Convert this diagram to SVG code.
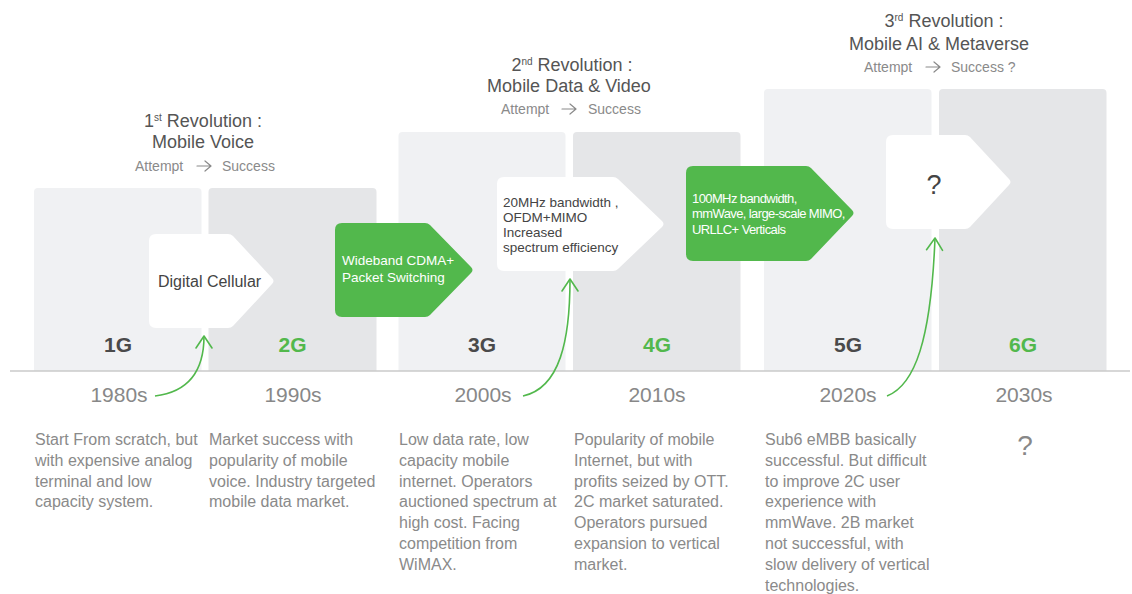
<svg xmlns="http://www.w3.org/2000/svg" width="1132" height="594" viewBox="0 0 1132 594">
<defs>
<style>
text{font-family:"Liberation Sans",Arial,sans-serif}
.colA{fill:#f0f1f3}
.colB{fill:#e5e6e8}
.head{font-size:18px;fill:#555;text-anchor:middle}
.sup{font-size:10px}
.sub{font-size:14px;fill:#8a8a8a}
.sarr{fill:none;stroke:#8a8a8a;stroke-width:1.2;stroke-linecap:round;stroke-linejoin:round}
.gen{font-size:21px;font-weight:bold;text-anchor:middle}
.dark{fill:#4a4a4a}
.green{fill:#52b84c}
.year{font-size:21px;fill:#888;text-anchor:middle}
.desc{font-size:16px;fill:#8a8a8a}
.wbox{fill:#fff}
.gbox{fill:#52b84c}
.btxt{font-size:13.5px;fill:#444}
.big{font-size:16px;fill:#444}
.gtxt{font-size:13.5px;fill:#fff}
.gtxt2{font-size:13px;fill:#fff;letter-spacing:-0.6px}
.q{font-size:27px;fill:#444;text-anchor:middle}
.q2{font-size:28px;fill:#888;text-anchor:middle}
.conn{fill:none;stroke:#52b84c;stroke-width:1.6}
</style>
<marker id="arr" markerUnits="userSpaceOnUse" markerWidth="30" markerHeight="30" refX="0" refY="0" orient="auto" overflow="visible">
<path d="M-12,-8 L0,0 L-12,8" fill="none" stroke="#52b84c" stroke-width="1.6" stroke-linecap="round" stroke-linejoin="round"/>
</marker>
</defs>
<rect width="1132" height="594" fill="#fff"/>

<g id="columns">
<path class="colA" d="M34,192 Q34,188 38,188 H197.5 Q201.5,188 201.5,192 V371 H34 Z"/>
<path class="colB" d="M208.5,192 Q208.5,188 212.5,188 H372.5 Q376.5,188 376.5,192 V371 H208.5 Z"/>
<path class="colA" d="M398.5,136 Q398.5,132 402.5,132 H561.5 Q565.5,132 565.5,136 V371 H398.5 Z"/>
<path class="colB" d="M573,136 Q573,132 577,132 H736.5 Q740.5,132 740.5,136 V371 H573 Z"/>
<path class="colA" d="M764,93 Q764,89 768,89 H927.5 Q931.5,89 931.5,93 V371 H764 Z"/>
<path class="colB" d="M939,93 Q939,89 943,89 H1102.5 Q1106.5,89 1106.5,93 V371 H939 Z"/>
<line x1="10" y1="371" x2="1130" y2="371" stroke="#cacaca" stroke-width="1.5"/>
</g>

<g id="rev1">
<text class="head" x="203" y="127">1<tspan class="sup" dy="-6">st</tspan><tspan dy="6"> Revolution :</tspan></text>
<text class="head" x="203" y="148">Mobile Voice</text>
<text class="sub" x="135" y="171">Attempt</text>
<path class="sarr" d="M197,166 H211 M205,161 L211,166 L205,171"/>
<text class="sub" x="222" y="171">Success</text>
</g>
<g id="rev2">
<text class="head" x="572" y="71">2<tspan class="sup" dy="-6">nd</tspan><tspan dy="6"> Revolution :</tspan></text>
<text class="head" x="569" y="92">Mobile Data &amp; Video</text>
<text class="sub" x="501" y="114">Attempt</text>
<path class="sarr" d="M562,109 H576 M570,104 L576,109 L570,114"/>
<text class="sub" x="588" y="114">Success</text>
</g>
<g id="rev3">
<text class="head" x="944" y="27">3<tspan class="sup" dy="-6">rd</tspan><tspan dy="6"> Revolution :</tspan></text>
<text class="head" x="939" y="50">Mobile AI &amp; Metaverse</text>
<text class="sub" x="864" y="72">Attempt</text>
<path class="sarr" d="M926,67 H940 M934,62 L940,67 L934,72"/>
<text class="sub" x="951" y="72">Success ?</text>
</g>

<g id="g1">
<text class="gen dark" x="118" y="352">1G</text>
<text class="year" x="119" y="402">1980s</text>
<text class="desc" y="445"><tspan x="35">Start From scratch, but</tspan><tspan x="35" dy="20.8">with expensive analog</tspan><tspan x="35" dy="20.8">terminal and low</tspan><tspan x="35" dy="20.8">capacity system.</tspan></text>
</g>
<g id="g2">
<text class="gen green" x="292.5" y="352">2G</text>
<text class="year" x="293" y="402">1990s</text>
<text class="desc" y="445"><tspan x="209">Market success with</tspan><tspan x="209" dy="20.8">popularity of mobile</tspan><tspan x="209" dy="20.8">voice. Industry targeted</tspan><tspan x="209" dy="20.8">mobile data market.</tspan></text>
</g>
<g id="g3">
<text class="gen dark" x="482" y="352">3G</text>
<text class="year" x="483" y="402">2000s</text>
<text class="desc" y="445"><tspan x="399">Low data rate, low</tspan><tspan x="399" dy="20.8">capacity mobile</tspan><tspan x="399" dy="20.8">internet. Operators</tspan><tspan x="399" dy="20.8">auctioned spectrum at</tspan><tspan x="399" dy="20.8">high cost. Facing</tspan><tspan x="399" dy="20.8">competition from</tspan><tspan x="399" dy="20.8">WiMAX.</tspan></text>
</g>
<g id="g4">
<text class="gen green" x="657" y="352">4G</text>
<text class="year" x="657" y="402">2010s</text>
<text class="desc" y="445"><tspan x="574">Popularity of mobile</tspan><tspan x="574" dy="20.8">Internet, but with</tspan><tspan x="574" dy="20.8">profits seized by OTT.</tspan><tspan x="574" dy="20.8">2C market saturated.</tspan><tspan x="574" dy="20.8">Operators pursued</tspan><tspan x="574" dy="20.8">expansion to vertical</tspan><tspan x="574" dy="20.8">market.</tspan></text>
</g>
<g id="g5">
<text class="gen dark" x="848" y="352">5G</text>
<text class="year" x="848" y="402">2020s</text>
<text class="desc" y="445"><tspan x="765">Sub6 eMBB basically</tspan><tspan x="765" dy="20.8">successful. But difficult</tspan><tspan x="765" dy="20.8">to improve 2C user</tspan><tspan x="765" dy="20.8">experience with</tspan><tspan x="765" dy="20.8">mmWave. 2B market</tspan><tspan x="765" dy="20.8">not successful, with</tspan><tspan x="765" dy="20.8">slow delivery of vertical</tspan><tspan x="765" dy="20.8">technologies.</tspan></text>
</g>
<g id="g6">
<text class="gen green" x="1023" y="352">6G</text>
<text class="year" x="1024" y="402">2030s</text>
<text class="q2" x="1025" y="455">?</text>
</g>

<g id="tech-digital">
<path class="wbox" d="M156,234 H228 Q231,234 233,236 L272,278 Q275,281 272,284 L233,326 Q231,328 228,328 H156 Q149,328 149,321 V241 Q149,234 156,234 Z"/>
<text class="big" x="158" y="287">Digital Cellular</text>
</g>
<g id="tech-wcdma">
<path class="gbox" d="M342,223 H425 Q428,223 430,225 L471,267 Q474,270 471,273 L430,315 Q428,317 425,317 H342 Q335,317 335,310 V230 Q335,223 342,223 Z"/>
<text class="gtxt" y="265"><tspan x="342">Wideband CDMA+</tspan><tspan x="342" dy="16.5">Packet Switching</tspan></text>
</g>
<g id="tech-ofdm">
<path class="wbox" d="M504,177 H613 Q616,177 618,179 L662,221 Q665,224 662,227 L618,269 Q616,271 613,271 H504 Q497,271 497,264 V184 Q497,177 504,177 Z"/>
<text class="btxt" y="207"><tspan x="503">20MHz bandwidth ,</tspan><tspan x="503" dy="15">OFDM+MIMO</tspan><tspan x="503" dy="15">Increased</tspan><tspan x="503" dy="15">spectrum efficiency</tspan></text>
</g>
<g id="tech-mmwave">
<path class="gbox" d="M693,166 H806 Q809,166 811,168 L852,210 Q855,213 852,216 L811,259 Q809,261 806,261 H693 Q686,261 686,254 V173 Q686,166 693,166 Z"/>
<text class="gtxt2" y="203"><tspan x="692">100MHz bandwidth,</tspan><tspan x="692" dy="15.3">mmWave, large-scale MIMO,</tspan><tspan x="692" dy="15.3">URLLC+ Verticals</tspan></text>
</g>
<g id="tech-6g">
<path class="wbox" d="M893,135 H965 Q968,135 970,137 L1009,179 Q1012,182 1009,185 L970,227 Q968,229 965,229 H893 Q886,229 886,222 V142 Q886,135 893,135 Z"/>
<text class="q" x="934" y="194">?</text>
</g>

<g id="connectors">
<path class="conn" marker-end="url(#arr)" d="M155,396 C188,392 204,372 204,336"/>
<path class="conn" marker-end="url(#arr)" d="M523,396 C560,388 570,340 570,279"/>
<path class="conn" marker-end="url(#arr)" d="M887,396 C915,385 931,340 935,238"/>
</g>
</svg>
